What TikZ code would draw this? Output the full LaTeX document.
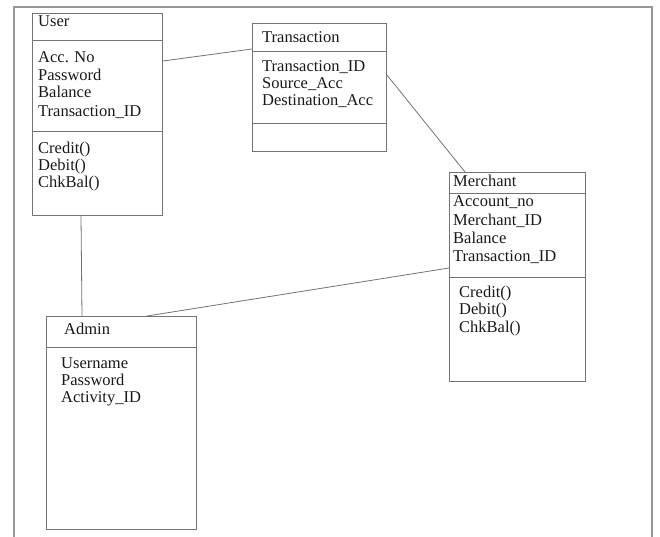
\documentclass[tikz,border=0pt]{standalone}
\usepackage{fontspec}
\setmainfont{Liberation Serif}
\definecolor{boxline}{RGB}{115,115,115}
\definecolor{frameline}{RGB}{150,150,150}
\definecolor{ink}{RGB}{25,25,25}
\begin{document}
\begin{tikzpicture}[x=1pt,y=-1pt,
  classbox/.style={draw=boxline,line width=0.9pt,rectangle,inner sep=0pt,anchor=north west},
  divider/.style={draw=boxline,line width=0.9pt},
  link/.style={draw=boxline,line width=0.8pt},
  txt/.style={anchor=base west,inner sep=0pt,text=ink,font=\fontsize{16.5}{17.5}\selectfont}]
\useasboundingbox (0,0) rectangle (660,537);
\fill[white] (0,0) rectangle (660,537);
% outer frame
\draw[frameline,line width=1.3pt] (14,537) -- (14,7) -- (652,7) -- (652,537);

% class boxes
\node[classbox,minimum width=130pt,minimum height=202pt] (user) at (32,13) {};
\node[classbox,minimum width=134pt,minimum height=128pt] (trans) at (252,23) {};
\node[classbox,minimum width=136pt,minimum height=209pt] (merch) at (449,172) {};
\node[classbox,minimum width=150pt,minimum height=213pt] (admin) at (46,316) {};

% dividers
\draw[divider] ([yshift=-27pt]user.north west) -- ([yshift=-27pt]user.north east);
\draw[divider] ([yshift=-118pt]user.north west) -- ([yshift=-118pt]user.north east);
\draw[divider] ([yshift=-28pt]trans.north west) -- ([yshift=-28pt]trans.north east);
\draw[divider] ([yshift=-100pt]trans.north west) -- ([yshift=-100pt]trans.north east);
\draw[divider] ([yshift=-21pt]merch.north west) -- ([yshift=-21pt]merch.north east);
\draw[divider] ([yshift=-105pt]merch.north west) -- ([yshift=-105pt]merch.north east);
\draw[divider] ([yshift=-31pt]admin.north west) -- ([yshift=-31pt]admin.north east);

% User texts
\node[txt] (ut) at (38,27) {User};
\node[txt] (ua1) at (38,63) {Acc. No};
\node[txt] (ua2) at (38,81) {Password};
\node[txt] (ua3) at (38,98) {Balance};
\node[txt] (ua4) at (38,117) {Transaction\_ID};
\node[txt] (um1) at (38,154) {Credit()};
\node[txt] (um2) at (38,171) {Debit()};
\node[txt] (um3) at (38,188) {ChkBal()};

% Transaction texts
\node[txt] (tt) at (262,43) {Transaction};
\node[txt] (ta1) at (262,72) {Transaction\_ID};
\node[txt] (ta2) at (262,89) {Source\_Acc};
\node[txt] (ta3) at (262,106) {Destination\_Acc};

% Merchant texts
\node[txt] (mt) at (453,187) {Merchant};
\node[txt] (ma1) at (453,207) {Account\_no};
\node[txt] (ma2) at (453,225) {Merchant\_ID};
\node[txt] (ma3) at (453,243) {Balance};
\node[txt] (ma4) at (453,261) {Transaction\_ID};
\node[txt] (mm1) at (459,297) {Credit()};
\node[txt] (mm2) at (459,314) {Debit()};
\node[txt] (mm3) at (459,332) {ChkBal()};

% Admin texts
\node[txt] (at) at (64,334) {Admin};
\node[txt] (aa1) at (61,368) {Username};
\node[txt] (aa2) at (61,385) {Password};
\node[txt] (aa3) at (61,402) {Activity\_ID};

% connectors
\draw[link] ([yshift=-48pt]user.north east) -- ([yshift=-26pt]trans.north west);
\draw[link] ([yshift=-52pt]trans.north east) -- ([xshift=16pt]merch.north west);
\draw[link] ([xshift=49pt]user.south west) -- ([xshift=36pt]admin.north west);
\draw[link] ([yshift=-96pt]merch.north west) -- ([xshift=101pt]admin.north west);
\end{tikzpicture}
\end{document}
